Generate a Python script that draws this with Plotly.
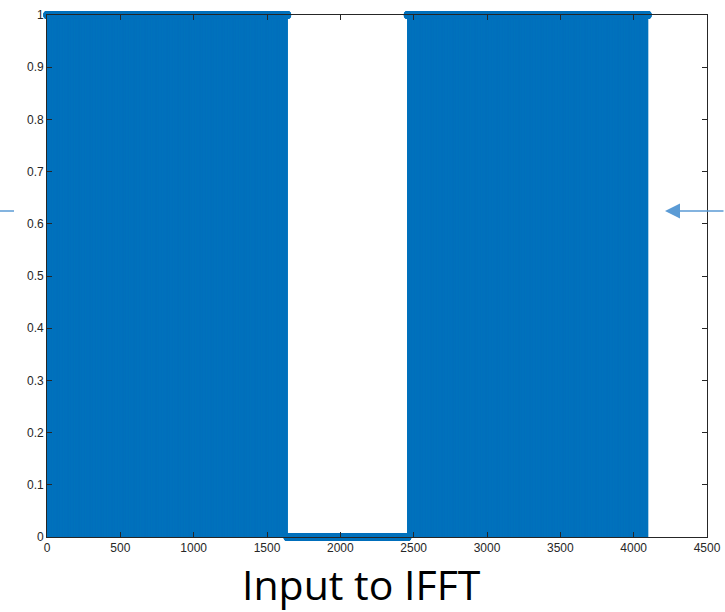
import numpy as np
import plotly.graph_objects as go

# Run-length description of the stem data (sample index ranges and their values)
run_start = [1, 1639, 2459]
run_end = [1638, 2458, 4096]
run_value = [1, 0, 1]

x_ticks = [0, 500, 1000, 1500, 2000, 2500, 3000, 3500, 4000, 4500]
y_ticks = [0, 0.1, 0.2, 0.3, 0.4, 0.5, 0.6, 0.7, 0.8, 0.9, 1]
y_tick_text = ["0", "0.1", "0.2", "0.3", "0.4", "0.5", "0.6", "0.7", "0.8", "0.9", "1"]
title_text = "Input to IFFT"

# expand runs to samples
n = np.concatenate([np.arange(s, e + 1) for s, e in zip(run_start, run_end)])
v = np.concatenate([np.full(e - s + 1, val, dtype=float) for s, e, val in zip(run_start, run_end, run_value)])

# stems
sx = np.empty(len(n) * 3)
sy = np.empty(len(n) * 3)
sx[0::3] = n
sx[1::3] = n
sx[2::3] = np.nan
sy[0::3] = 0
sy[1::3] = v
sy[2::3] = np.nan

color = "#0072BD"
fig = go.Figure()
fig.add_trace(go.Scatter(x=sx, y=sy, mode="lines", line=dict(color=color, width=1),
                         hoverinfo="skip", showlegend=False, connectgaps=False))
fig.add_trace(go.Scatter(x=n, y=v, mode="markers", cliponaxis=False,
                         marker=dict(symbol="circle", size=8, color=color, line=dict(width=0)),
                         showlegend=False))

axis_color = "#262626"
common = dict(showgrid=False, zeroline=False, showline=True, linecolor=axis_color, linewidth=0.8,
              mirror="ticks", ticks="inside", ticklen=5, tickcolor=axis_color, tickwidth=0.8,
              automargin=False,
              tickfont=dict(family="Liberation Sans, Arial", size=12, color=axis_color))
fig.update_xaxes(range=[0, 4500], tickvals=x_ticks, **common)
fig.update_yaxes(range=[0, 1], tickvals=y_ticks, ticktext=y_tick_text, **common)

L, R, T, B = 47, 18, 15, 75
W, H = 725, 612
pw, ph = W - L - R, H - T - B
yarrow = (537 - 211) / ph

fig.update_layout(
    width=W, height=H, margin=dict(l=L, r=R, t=T, b=B, autoexpand=False),
    plot_bgcolor="white", paper_bgcolor="white",
    annotations=[
        dict(text=title_text, xref="paper", yref="paper", x=(361 - L) / pw, y=-(584 - 537) / ph,
             xanchor="center", yanchor="middle", showarrow=False,
             font=dict(family="Open Sans", size=41, color="black")),
        dict(text="", xref="paper", yref="paper", x=(665 - L) / pw, y=yarrow,
             showarrow=True, ax=60, ay=0, arrowhead=2, arrowsize=2, arrowwidth=1.5,
             arrowcolor="#5B9BD5", standoff=0),
    ],
    shapes=[
        dict(type="line", xref="paper", yref="paper", x0=(0 - L) / pw, x1=(14 - L) / pw,
             y0=yarrow, y1=yarrow, line=dict(color="#5B9BD5", width=1.5)),
    ],
)

fig.write_html("out.html", config={"displayModeBar": False},
               post_script="document.body.style.margin='0';document.body.style.overflow='hidden';")
